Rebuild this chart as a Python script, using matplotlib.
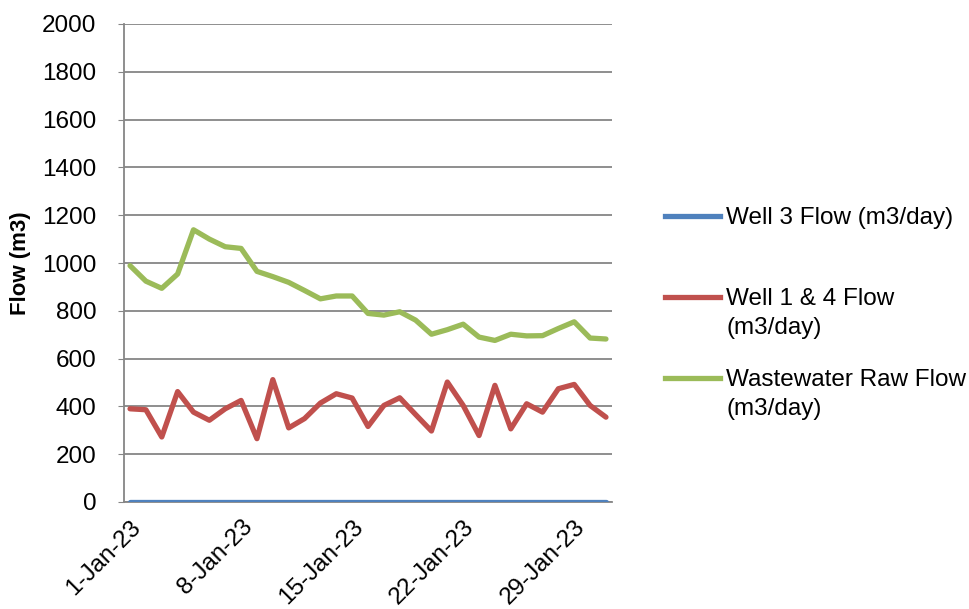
import matplotlib
matplotlib.use("Agg")
import matplotlib.pyplot as plt
from matplotlib.lines import Line2D

plt.rcParams["font.family"] = ["Liberation Sans", "DejaVu Sans"]

# data (January 2023, daily)
days = list(range(1, 32))
well3 = [0] * 31
well14 = [390, 386, 272, 462, 376, 342, 390, 425, 265, 512,
          310, 349, 414, 453, 435, 316, 404, 436, 366, 297,
          502, 404, 278, 488, 306, 411, 376, 474, 492, 404, 355]
wastewater = [989, 924, 894, 954, 1139, 1100, 1068, 1061, 965, 943,
              919, 885, 850, 862, 862, 789, 782, 796, 761, 702,
              721, 744, 690, 676, 702, 695, 696, 726, 754, 686, 682]
tick_days = [1, 8, 15, 22, 29]
tick_labels = ["1-Jan-23", "8-Jan-23", "15-Jan-23", "22-Jan-23", "29-Jan-23"]

series = [
    ("Well 3 Flow (m3/day)", well3, "#4F81BD"),
    ("Well 1 & 4 Flow\n(m3/day)", well14, "#C0504D"),
    ("Wastewater Raw Flow\n(m3/day)", wastewater, "#9BBB59"),
]

FS = 17.5
fig = plt.figure(figsize=(9.69, 6.09), dpi=100)
ax = fig.add_axes([124 / 969, 1 - 502 / 609, (612 - 124) / 969, (502 - 24) / 609])

for name, vals, col in series:
    ax.plot(days, vals, color=col, lw=3.8, solid_capstyle="round", zorder=3)

ax.set_ylim(0, 2000)
ax.set_yticks(range(0, 2001, 200))
ax.set_xlim(0.62, 31.38)
ax.set_xticks(tick_days)
ax.set_xticklabels(tick_labels, rotation=45, ha="right", rotation_mode="anchor")
ax.grid(axis="y", color="#868686", lw=1.3, zorder=1)
ax.set_axisbelow(True)
for s in ["top", "right"]:
    ax.spines[s].set_visible(False)
for s in ["left", "bottom"]:
    ax.spines[s].set_color("#868686")
    ax.spines[s].set_linewidth(1.3)
ax.tick_params(axis="y", length=4, color="#868686", labelsize=FS, pad=16)
ax.tick_params(axis="x", length=0, labelsize=FS, pad=10)
ax.set_ylabel("Flow (m3)", fontsize=16, fontweight="bold", labelpad=8)

# legend drawn at the right like the original
leg_y = [216, 297, 378]
for (name, vals, col), y in zip(series, leg_y):
    fy = 1 - y / 609
    fig.add_artist(Line2D([665 / 969, 720 / 969], [fy, fy], color=col, lw=3.8,
                          transform=fig.transFigure))
    fig.text(726 / 969, fy + 9 / 609, name, fontsize=FS, va="top", ha="left",
             linespacing=1.4, transform=fig.transFigure)

fig.savefig("out.png", dpi=100)
